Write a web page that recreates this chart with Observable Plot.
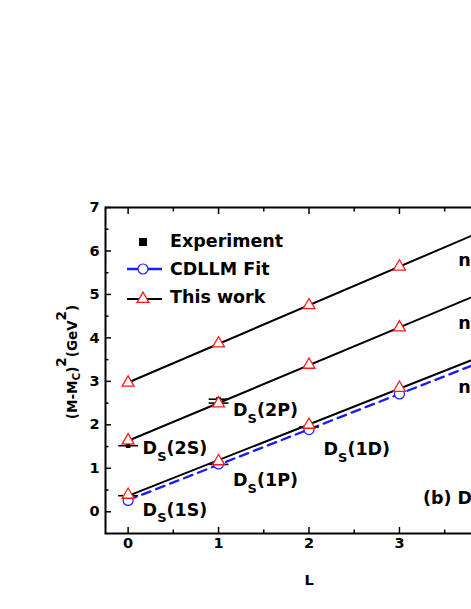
<!DOCTYPE html>
<html><head><meta charset="utf-8">
<script src="https://cdn.jsdelivr.net/npm/d3@7"></script>
<script src="https://cdn.jsdelivr.net/npm/@observablehq/plot@0.6"></script>
<style>
html,body{margin:0;padding:0;background:#fff;overflow:hidden;}
#chart svg{display:block;max-width:none !important;width:560px !important;height:609px !important;}
</style></head><body><div id="chart"></div>
<script>
// ---- data ----
const L = [0, 1, 2, 3];
const thisWorkN1 = [0.39, 1.16, 2.00, 2.85];
const thisWorkN2 = [1.64, 2.49, 3.38, 4.24];
const thisWorkN3 = [2.97, 3.87, 4.75, 5.64];
const cdllmFit   = [0.26, 1.10, 1.89, 2.71];
const expL     = [0, 0, 1, 1, 1, 2];
const expValue = [0.37, 1.52, 1.09, 2.59, 2.50, 1.95];
// state labels (text, anchor L, anchor value)
const stateText  = ["D|S|(1S)", "D|S|(2S)", "D|S|(1P)", "D|S|(2P)", "D|S|(1D)"];
const stateL     = [0, 0, 1, 1, 2];
const stateY     = [0.04, 1.45, 0.72, 2.33, 1.43];
const nText = ["n=3", "n=2", "n=1"];
const nL    = [3.65, 3.65, 3.65];
const nY    = [5.78, 4.33, 2.86];
const panelText = ["(b) D|S|"];
const panelL = [3.26];
const panelY = [0.31];
const xTicks = [0, 1, 2, 3, 4];
const xMinor = [0.5, 1.5, 2.5, 3.5];
const yTicks = [0, 1, 2, 3, 4, 5, 6, 7];
const yMinor = [0.5, 1.5, 2.5, 3.5, 4.5, 5.5, 6.5];
const xDomain = [-0.25, 4.25];
const yDomain = [-0.5, 7];

// ---- tables ----
const series = [thisWorkN1, thisWorkN2, thisWorkN3];
const twPts = series.flatMap((s, i) => s.map((v, j) => ({L: L[j], y: v, n: i + 1})));
const cdPts = cdllmFit.map((v, j) => ({L: L[j], y: v}));
const expPts = expValue.map((v, i) => ({L: expL[i], y: v}));
// least-squares straight fit lines, drawn from L=0 to the frame edge
function fit(vals) {
  const mx = d3.mean(L), my = d3.mean(vals);
  const m = d3.sum(L, (x, i) => (x - mx) * (vals[i] - my)) / d3.sum(L, x => (x - mx) ** 2);
  const b = my - m * mx;
  return [0, xDomain[1]].map(x => ({L: x, y: b + m * x}));
}
const twLines = series.flatMap((s, i) => fit(s).map(d => ({...d, n: i + 1})));
const cdLine = fit(cdllmFit);
const states = stateText.map((t, i) => ({t, L: stateL[i], y: stateY[i]}));
const nLabels = nText.map((t, i) => ({t, L: nL[i], y: nY[i]}));
const panel = panelText.map((t, i) => ({t, L: panelL[i], y: panelY[i]}));

const RED = "#ff1a1a", BLUE = "#1a1aff";
const FONT = "DejaVu Sans";
const dash = {draw(ctx, size) { const h = Math.sqrt(size / Math.PI) * 1.8; ctx.moveTo(-h, 0); ctx.lineTo(h, 0); }};

const chart = Plot.plot({
  width: 560, height: 609,
  marginLeft: 105, marginRight: 48, marginTop: 207, marginBottom: 76,
  x: {domain: xDomain},
  y: {domain: yDomain},
  style: {fontFamily: FONT, fontWeight: "bold", fontSize: "14.5px", color: "#000", background: "#fff", maxWidth: "none"},
  marks: [
    Plot.line(cdLine, {x: "L", y: "y", stroke: BLUE, strokeWidth: 2.3, strokeDasharray: "9,6"}),
    Plot.line(twLines, {x: "L", y: "y", z: "n", stroke: "#000", strokeWidth: 2}),
    Plot.dot(expPts, {x: "L", y: "y", symbol: dash, r: 5.5, stroke: "#000", strokeWidth: 1.6}),
    Plot.dot(expPts, {x: "L", y: "y", symbol: "square", r: 2.6, fill: "#000"}),
    Plot.dot(cdPts, {x: "L", y: "y", symbol: "circle", r: 5, stroke: BLUE, fill: "#fff", strokeWidth: 1.2}),
    Plot.dot(twPts, {x: "L", y: "y", symbol: "triangle", r: 4.4, stroke: RED, fill: "#fff", strokeWidth: 1.3}),
    Plot.text(states, {x: "L", y: "y", text: "t", dx: 14.5, textAnchor: "start", fontSize: 17.5}),
    Plot.text(panel, {x: "L", y: "y", text: "t", textAnchor: "start", fontSize: 17.5}),
    Plot.text(nLabels, {x: "L", y: "y", text: "t", textAnchor: "start", fontSize: 17.5}),
    Plot.text(["L"], {frameAnchor: "bottom", dy: 51.5, fontSize: 14.5}),
    Plot.axisX({ticks: xTicks, tickSize: -6, tickPadding: 10, strokeWidth: 1.5, label: null, tickFormat: d => d}),
    Plot.axisX({ticks: xMinor, tickSize: -3.5, tickPadding: 0, strokeWidth: 1.5, label: null, tickFormat: () => ""}),
    Plot.axisX({anchor: "top", ticks: xTicks, tickSize: -6, strokeWidth: 1.5, label: null, tickFormat: () => ""}),
    Plot.axisX({anchor: "top", ticks: xMinor, tickSize: -3.5, strokeWidth: 1.5, label: null, tickFormat: () => ""}),
    Plot.axisY({ticks: yTicks, tickSize: -6, tickPadding: 12, strokeWidth: 1.5, label: null, tickFormat: d => d}),
    Plot.axisY({ticks: yMinor, tickSize: -3.5, strokeWidth: 1.5, label: null, tickFormat: () => ""}),
    Plot.frame({stroke: "#000", strokeWidth: 2})
  ]
});
document.getElementById("chart").appendChild(chart);

const svg = d3.select(chart);
// subscripts in labels
svg.selectAll("text").each(function () {
  const t = d3.select(this);
  const s = t.text();
  if (!s.includes("|")) return;
  const parts = s.split("|");
  t.text("");
  t.append("tspan").text(parts[0]);
  t.append("tspan").attr("font-size", 13).attr("dy", 6.5).text(parts[1]);
  if (parts[2]) t.append("tspan").attr("dy", -6.5).text(parts[2]);
});

// y axis title
const yt = svg.append("text")
  .attr("transform", "translate(77,362) rotate(-90)")
  .attr("text-anchor", "middle")
  .attr("font-family", FONT).attr("font-weight", "bold").attr("font-size", 13.5).attr("fill", "#000");
yt.append("tspan").text("(M-M");
yt.append("tspan").attr("font-size", 10.5).attr("dy", 3).text("C");
yt.append("tspan").attr("dy", -3).text(")");
yt.append("tspan").attr("dy", -11).text("2");
yt.append("tspan").attr("dy", 11).text("(GeV");
yt.append("tspan").attr("dy", -11).text("2");
yt.append("tspan").attr("dy", 11).text(")");

// legend
const lg = svg.append("g").attr("font-family", FONT).attr("font-weight", "bold").attr("font-size", 17.5)
  .attr("fill", "#000").attr("text-anchor", "start");
lg.append("rect").attr("x", 139).attr("y", 238).attr("width", 8).attr("height", 8).attr("fill", "#000");
lg.append("text").attr("x", 170).attr("y", 247).text("Experiment");
lg.append("line").attr("x1", 127).attr("x2", 162).attr("y1", 269).attr("y2", 269).attr("stroke", BLUE).attr("stroke-width", 2.3);
lg.append("circle").attr("cx", 143).attr("cy", 269).attr("r", 5).attr("fill", "#fff").attr("stroke", BLUE).attr("stroke-width", 1.2);
lg.append("text").attr("x", 170).attr("y", 275).text("CDLLM Fit");
lg.append("line").attr("x1", 127).attr("x2", 162).attr("y1", 299).attr("y2", 299).attr("stroke", "#000").attr("stroke-width", 2);
lg.append("path").attr("transform", "translate(143,299)")
  .attr("d", d3.symbol(d3.symbolTriangle, Math.PI * 4.4 * 4.4)())
  .attr("fill", "#fff").attr("stroke", RED).attr("stroke-width", 1.3);
lg.append("text").attr("x", 170).attr("y", 303).text("This work");
</script>
</body></html>
